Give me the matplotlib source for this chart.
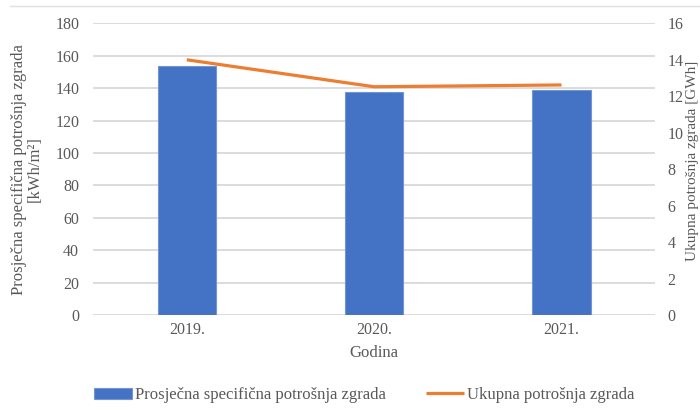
import matplotlib.pyplot as plt
import numpy as np

# podaci
godine = ['2019.', '2020.', '2021.']
specificna = [153.6, 137.4, 138.8]      # kWh/m2, lijeva os
ukupna = [14.0, 12.52, 12.62]           # GWh, desna os

plt.rcParams['font.family'] = ['Liberation Serif', 'DejaVu Serif']
siva = '#595959'

fig = plt.figure(figsize=(7, 4.12), dpi=100)
ax = fig.add_axes([0.133, 0.2354, 0.803, 0.708])

x = np.arange(len(godine))
bars = ax.bar(x, specificna, width=0.31, color='#4472C4', edgecolor='#7196d6',
              linewidth=0.8, zorder=3, label='Prosječna specifična potrošnja zgrada')

ax.set_xlim(-0.5, 2.5)
ax.set_ylim(0, 180)
ax.set_yticks(range(0, 181, 20))
ax.set_xticks(x)
ax.set_xticklabels(godine)
ax.grid(axis='y', color='#d9d9d9', linewidth=1.3, zorder=0)
ax.tick_params(length=0, colors=siva, labelsize=11.5, pad=10)
ax.tick_params(axis='x', pad=5)
for s in ax.spines.values():
    s.set_visible(False)
ax.set_xlabel('Godina', color=siva, fontsize=12, labelpad=5)
ax.set_ylabel('Prosječna specifična potrošnja zgrada\n[kWh/m²]',
              color=siva, fontsize=12, linespacing=1.0, va='center')
ax.yaxis.set_label_coords(-0.118, 0.5)

ax2 = ax.twinx()
line, = ax2.plot(x, ukupna, color='#ED7D31', linewidth=2.3, zorder=4,
                 label='Ukupna potrošnja zgrada', solid_capstyle='butt')
ax2.set_ylim(0, 16)
ax2.set_yticks(range(0, 17, 2))
ax2.tick_params(length=0, colors=siva, labelsize=11.5, pad=9)
for s in ax2.spines.values():
    s.set_visible(False)
ax2.set_ylabel('Ukupna potrošnja zgrada [GWh]', color=siva, fontsize=11,
               rotation=90, va='center')
ax2.yaxis.set_label_coords(1.067, 0.53)

# tanka linija okvira na vrhu
fig.add_artist(plt.Line2D([0.014, 1.0], [0.985, 0.985], color='#e0e0e0',
                          linewidth=1, transform=fig.transFigure))

fig.legend(handles=[bars, line], loc='lower center', ncol=2, frameon=False,
           bbox_to_anchor=(0.52, -0.015), fontsize=12, handlelength=2.3,
           handletextpad=0.15, columnspacing=2.4, labelcolor=siva)

fig.savefig('out.png', dpi=100)
